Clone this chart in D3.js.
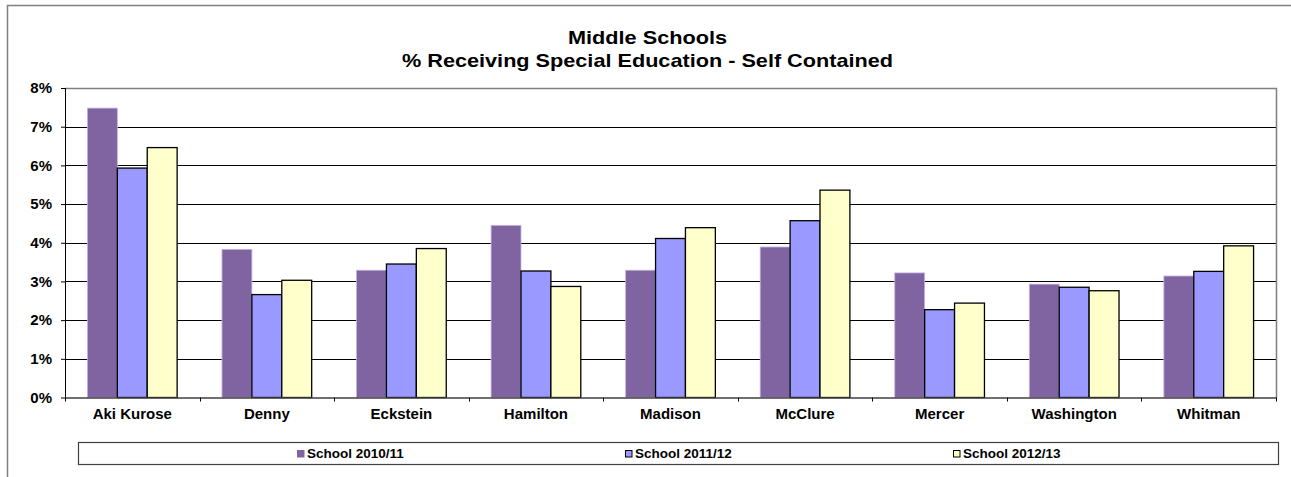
<!DOCTYPE html>
<html>
<head>
<meta charset="utf-8">
<script src="https://cdn.jsdelivr.net/npm/d3@7"></script>
<style>
  html, body { margin: 0; padding: 0; background: #fff; }
  svg { display: block; font-family: Arial, "Liberation Sans", sans-serif; }
  text { font-weight: bold; fill: #000; }
</style>
</head>
<body>
<svg id="chart" width="1291" height="477"></svg>
<script>
const titleLines = ["Middle Schools", "% Receiving Special Education - Self Contained"];
const categories = ["Aki Kurose", "Denny", "Eckstein", "Hamilton", "Madison", "McClure", "Mercer", "Washington", "Whitman"];
const seriesNames = ["School 2010/11", "School 2011/12", "School 2012/13"];
const values2010 = [0.0748, 0.0383, 0.0329, 0.0445, 0.0329, 0.0389, 0.0322, 0.0293, 0.0314];
const values2011 = [0.0593, 0.0266, 0.0345, 0.0327, 0.0411, 0.0457, 0.0227, 0.0285, 0.0326];
const values2012 = [0.0646, 0.0303, 0.0385, 0.0287, 0.0439, 0.0536, 0.0244, 0.0276, 0.0392];
const yTicks = [0, 0.01, 0.02, 0.03, 0.04, 0.05, 0.06, 0.07, 0.08];
const seriesColors = ["#8064A2", "#9999FF", "#FFFFCC"];
const seriesStrokes = ["#c4b4dc", "#000", "#000"];

const seriesValues = [values2010, values2011, values2012];

const svg = d3.select("#chart");
const plot = { left: 65, right: 1276, top: 88, bottom: 397.5 };

// outer chart border (cropped at right/bottom)
svg.append("path")
  .attr("d", `M7.5,477 V5.5 H1291`)
  .attr("fill", "none").attr("stroke", "#7f7f7f").attr("stroke-width", 1.5);

// title
svg.append("text").attr("x", 647.5).attr("y", 43.5).attr("text-anchor", "middle")
  .attr("font-size", 18.5).attr("textLength", 159).attr("lengthAdjust", "spacingAndGlyphs")
  .text(titleLines[0]);
svg.append("text").attr("x", 647.5).attr("y", 67).attr("text-anchor", "middle")
  .attr("font-size", 18.5).attr("textLength", 491).attr("lengthAdjust", "spacingAndGlyphs")
  .text(titleLines[1]);

const x0 = d3.scaleBand().domain(categories).range([plot.left, plot.right]).paddingInner(0).paddingOuter(0);
const x1 = d3.scaleBand().domain(seriesNames).range([0, x0.bandwidth()]).paddingInner(0).paddingOuter(0.75);
const y = d3.scaleLinear().domain([0, 0.08]).range([plot.bottom, plot.top]);

// gridlines
svg.append("g").selectAll("line").data(yTicks.filter(d => d > 0 && d < 0.08)).join("line")
  .attr("x1", plot.left).attr("x2", plot.right)
  .attr("y1", d => Math.round(y(d)) + 0.5).attr("y2", d => Math.round(y(d)) + 0.5)
  .attr("stroke", "#000").attr("stroke-width", 1);

// plot top and right border (grey)
svg.append("path")
  .attr("d", `M${plot.left},${plot.top + 0.5} H${plot.right + 0.5} V${plot.bottom}`)
  .attr("fill", "none").attr("stroke", "#808080").attr("stroke-width", 1.5);

// bars
const groups = svg.append("g").selectAll("g").data(categories).join("g")
  .attr("transform", d => `translate(${x0(d)},0)`);
groups.selectAll("rect")
  .data((c, ci) => seriesNames.map((s, si) => ({ s, si, v: seriesValues[si][ci] })))
  .join("rect")
  .attr("x", d => x1(d.s))
  .attr("width", x1.bandwidth())
  .attr("y", d => y(d.v))
  .attr("height", d => y(0) - y(d.v))
  .attr("fill", d => seriesColors[d.si])
  .attr("stroke", d => seriesStrokes[d.si])
  .attr("stroke-width", d => d.si === 0 ? 0.8 : 1.3);

// y axis
const yAxis = d3.axisLeft(y).tickValues(yTicks).tickFormat(d3.format(".0%")).tickSize(4).tickPadding(9);
const gy = svg.append("g").attr("transform", `translate(${plot.left},0)`).call(yAxis);
gy.select(".domain").attr("stroke", "#000").attr("d", `M0.5,${plot.top}V${plot.bottom}`);
gy.selectAll(".tick line").attr("stroke", "#000");
gy.selectAll(".tick text").attr("font-size", 15).attr("font-family", "Arial, 'Liberation Sans', sans-serif").attr("font-weight", "bold").attr("fill", "#000");

// x axis labels
const xAxis = d3.axisBottom(x0).tickSize(0).tickPadding(11);
const gx = svg.append("g").attr("transform", `translate(0,${plot.bottom})`).call(xAxis);
gx.select(".domain").remove();
gx.selectAll(".tick text").attr("font-size", 15).attr("font-family", "Arial, 'Liberation Sans', sans-serif").attr("font-weight", "bold").attr("fill", "#000");

// x axis line and category boundary ticks
svg.append("line").attr("x1", plot.left).attr("x2", plot.right + 1)
  .attr("y1", plot.bottom + 0.5).attr("y2", plot.bottom + 0.5)
  .attr("stroke", "#404040").attr("stroke-width", 1.6);
const boundaries = categories.map(c => x0(c)).concat([x0.range()[1]]);
svg.append("g").selectAll("line").data(boundaries).join("line")
  .attr("x1", d => Math.round(d) + 0.5).attr("x2", d => Math.round(d) + 0.5)
  .attr("y1", plot.bottom).attr("y2", plot.bottom + 4)
  .attr("stroke", "#000");

// legend
svg.append("rect").attr("x", 78.5).attr("y", 442.5).attr("width", 1200).attr("height", 22)
  .attr("fill", "#fff").attr("stroke", "#404040").attr("stroke-width", 1.2);
const lx = d3.scalePoint().domain(seriesNames).range([297, 953]);
const lg = svg.append("g").selectAll("g").data(seriesNames).join("g")
  .attr("transform", d => `translate(${lx(d)},0)`);
lg.append("rect").attr("x", 0.5).attr("y", 450.5).attr("width", 6.5).attr("height", 6.5)
  .attr("fill", (d, i) => seriesColors[i])
  .attr("stroke", (d, i) => i === 0 ? seriesColors[0] : "#000").attr("stroke-width", 1);
lg.append("text").attr("x", 10).attr("y", 458).attr("font-size", 13.5).text(d => d);
</script>
</body>
</html>
